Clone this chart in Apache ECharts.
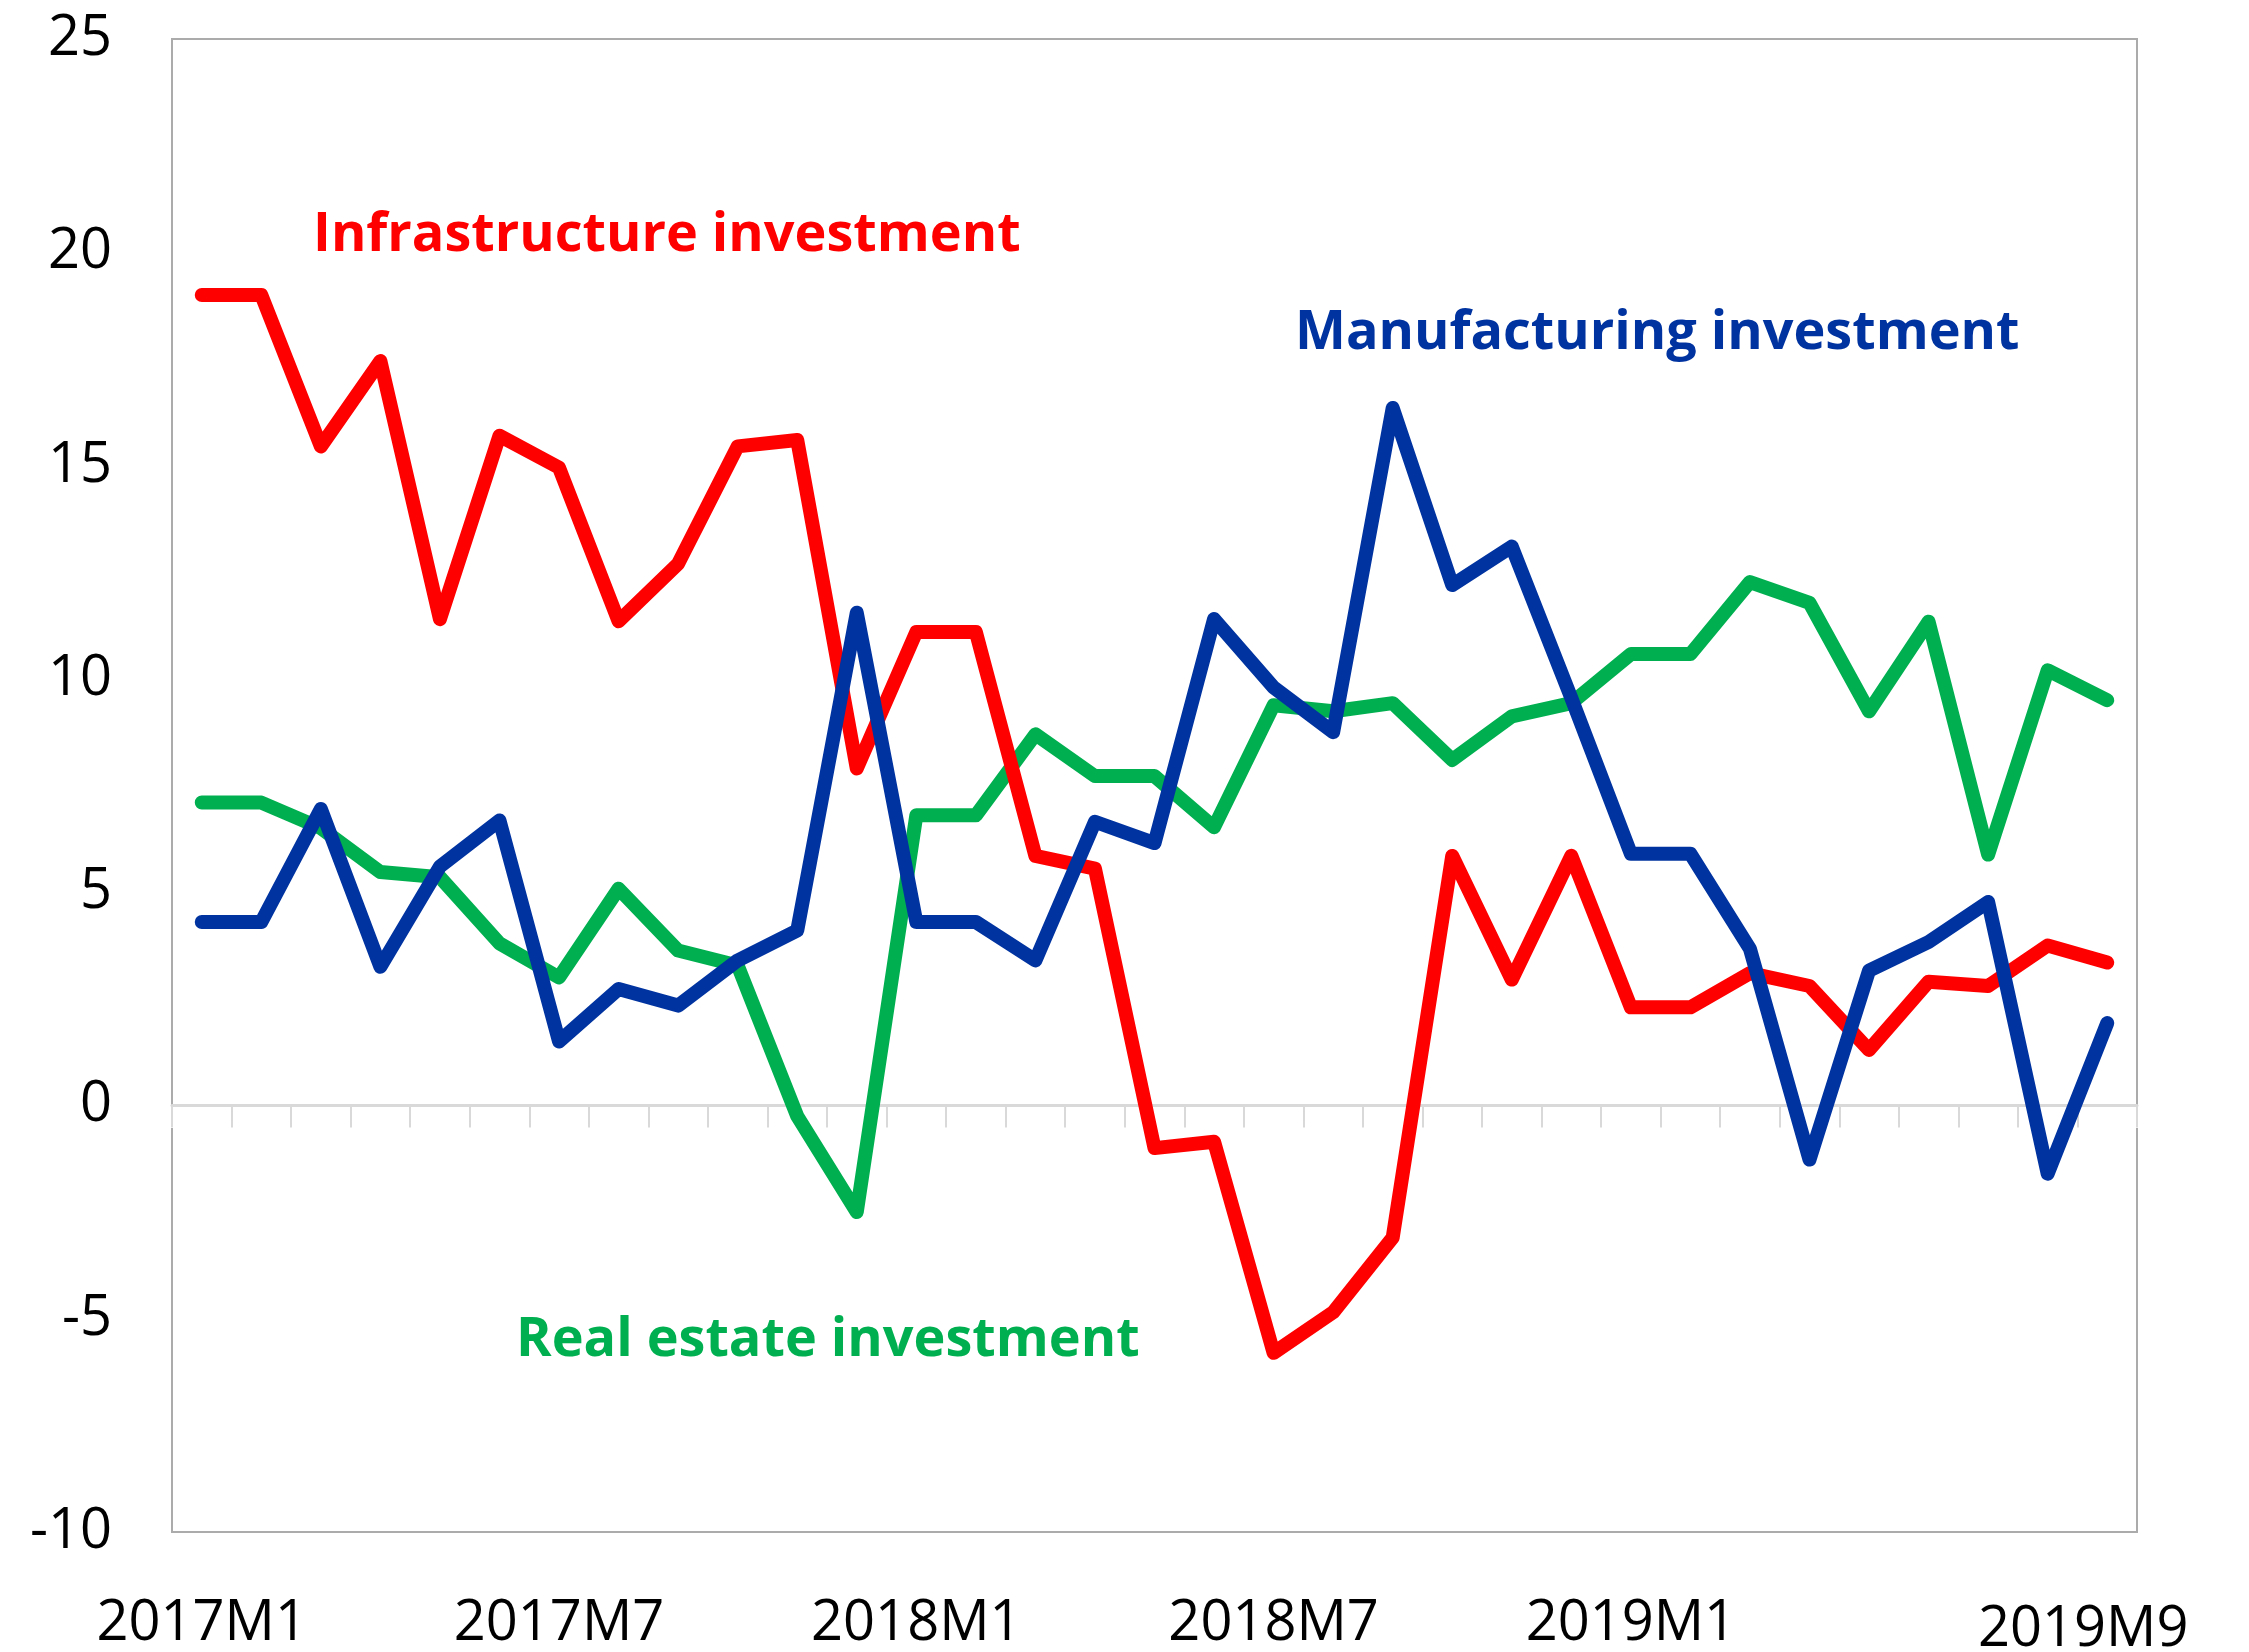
<!DOCTYPE html>
<html lang="en">
<head>
    <meta charset="UTF-8">
    <title>Investment growth</title>
    <script src="https://cdn.jsdelivr.net/npm/echarts@6/dist/echarts.min.js"></script>
    <style>
        html, body { margin: 0; padding: 0; background: #fff; }
        #chart { width: 2249px; height: 1652px; }
    </style>
</head>
<body>
<div id="chart"></div>
<script>
    // months, 2017M1 .. 2019M9
    var months = ['2017M1', '2017M2', '2017M3', '2017M4', '2017M5', '2017M6', '2017M7', '2017M8', '2017M9', '2017M10', '2017M11', '2017M12',
        '2018M1', '2018M2', '2018M3', '2018M4', '2018M5', '2018M6', '2018M7', '2018M8', '2018M9', '2018M10', '2018M11', '2018M12',
        '2019M1', '2019M2', '2019M3', '2019M4', '2019M5', '2019M6', '2019M7', '2019M8', '2019M9'];
    var shownLabels = ['2017M1', '2017M7', '2018M1', '2018M7', '2019M1', '2019M9'];

    var infra = [19.0, 19.0, 15.45, 17.45, 11.4, 15.7, 14.95, 11.35, 12.7, 15.45, 15.6, 7.9,
        11.1, 11.1, 5.85, 5.55, -1.0, -0.85, -5.8, -4.85, -3.1, 5.85, 2.95, 5.85,
        2.3, 2.3, 3.1, 2.8, 1.3, 2.9, 2.8, 3.75, 3.35];
    var manuf = [4.3, 4.3, 6.95, 3.25, 5.6, 6.68, 1.5, 2.73, 2.34, 3.4, 4.1, 11.55,
        4.3, 4.3, 3.4, 6.65, 6.15, 11.4, 9.8, 8.75, 16.35, 12.2, 13.1, 9.55,
        5.9, 5.9, 3.67, -1.27, 3.16, 3.83, 4.77, -1.6, 1.93];
    var realEst = [7.1, 7.1, 6.5, 5.47, 5.35, 3.8, 3.0, 5.08, 3.63, 3.28, -0.25, -2.5,
        6.8, 6.8, 8.7, 7.72, 7.72, 6.52, 9.38, 9.24, 9.43, 8.1, 9.12, 9.43,
        10.58, 10.58, 12.27, 11.78, 9.24, 11.34, 5.88, 10.2, 9.5];

    var yMin = -10, yMax = 25, yStep = 5;

    var FONT = 'Open Sans';
    var RED = '#FF0000', BLUE = '#0033A0', GREEN = '#00B050';

    var chart = echarts.init(document.getElementById('chart'), null, {renderer: 'canvas'});

    function lineSeries(name, data, color, z) {
        return {
            name: name,
            type: 'line',
            data: data,
            xAxisIndex: 0,
            symbol: 'none',
            smooth: false,
            z: z,
            lineStyle: {color: color, width: 14, cap: 'round', join: 'round'}
        };
    }

    var option = {
        backgroundColor: '#fff',
        animation: false,
        grid: {
            left: 172, right: 112, top: 39, bottom: 120,
            show: true, borderColor: '#ABABAB', borderWidth: 2,
            outerBoundsMode: 'none'
        },
        xAxis: [
            {
                type: 'category',
                data: months,
                position: 'bottom',
                boundaryGap: true,
                axisLine: {show: false, onZero: false},
                axisTick: {show: false},
                splitLine: {show: false},
                axisLabel: {
                    fontFamily: FONT, fontSize: 56, color: '#000', margin: 64,
                    interval: function (i, v) { return shownLabels.indexOf(v) >= 0; },
                    formatter: function (v) {
                        return v === months[months.length - 1] ? '{last|' + v + '}' : v;
                    },
                    rich: {
                        last: {fontFamily: FONT, fontSize: 56, color: '#000', padding: [6, 48, 0, 0]}
                    }
                }
            },
            {
                type: 'category',
                data: months,
                position: 'top',
                boundaryGap: true,
                z: 3,
                axisLine: {show: true, onZero: true, lineStyle: {color: '#D9D9D9', width: 3}},
                axisTick: {show: true, inside: true, interval: 0, length: 22, lineStyle: {color: '#D9D9D9', width: 2}},
                axisLabel: {show: false},
                splitLine: {show: false}
            }
        ],
        yAxis: {
            type: 'value',
            min: yMin, max: yMax, interval: yStep,
            axisLine: {show: false},
            axisTick: {show: false},
            splitLine: {show: false},
            axisLabel: {fontFamily: FONT, fontSize: 56, color: '#000', margin: 60}
        },
        graphic: [
            {
                type: 'rect', z: 1, silent: true,
                shape: {x: 168, y: 1107, width: 1974, height: 21},
                style: {fill: '#fff'}
            },
            {
                type: 'text', left: 313, top: 209, z: 10,
                style: {text: 'Infrastructure investment', fill: RED, font: 'bold 54px "Open Sans"'}
            },
            {
                type: 'text', left: 1295, top: 307, z: 10,
                style: {text: 'Manufacturing investment', fill: BLUE, font: 'bold 54px "Open Sans"'}
            },
            {
                type: 'text', left: 516, top: 1314, z: 10,
                style: {text: 'Real estate investment', fill: GREEN, font: 'bold 54px "Open Sans"'}
            }
        ],
        series: [
            lineSeries('Real estate investment', realEst, GREEN, 4),
            lineSeries('Infrastructure investment', infra, RED, 5),
            lineSeries('Manufacturing investment', manuf, BLUE, 6)
        ]
    };
    chart.setOption(option);
</script>
</body>
</html>
